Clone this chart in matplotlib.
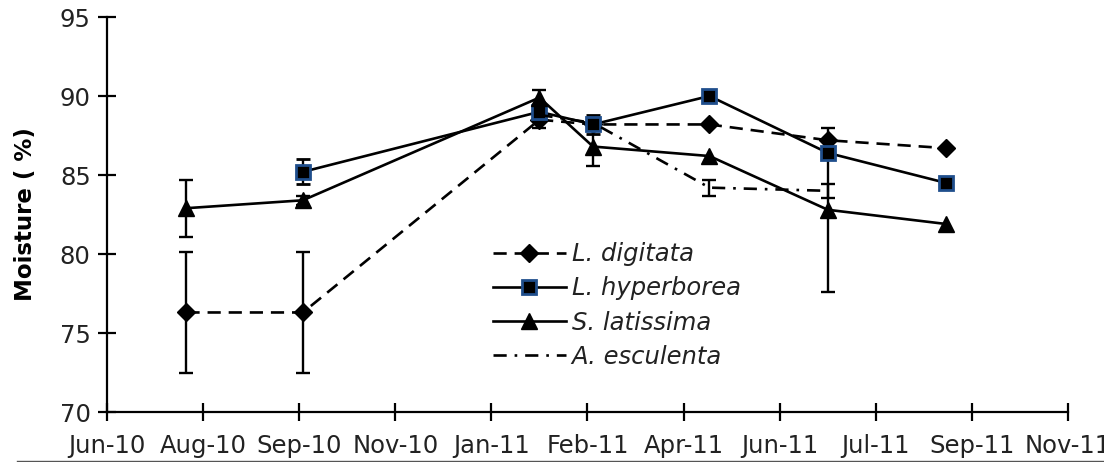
"""Seasonal moisture content of four kelp species (Jun-10 to Nov-11)."""
import matplotlib
matplotlib.use("Agg")
import matplotlib.dates as mdates
import matplotlib.pyplot as plt
import numpy as np
from matplotlib.lines import Line2D

# sampling dates
sample_dates = ["2010-07-23", "2010-09-24", "2011-01-30", "2011-02-28",
                "2011-05-02", "2011-07-05", "2011-09-07"]

nan = np.nan
digitata = [76.3, 76.3, 88.5, 88.2, 88.2, 87.2, 86.7]
digitata_err = [3.8, 3.8, 0.5, nan, nan, nan, nan]
hyperborea = [nan, 85.2, 89.0, 88.2, 90.0, 86.4, 84.5]
hyperborea_err = [nan, 0.8, nan, 0.6, nan, nan, nan]
latissima = [82.9, 83.4, 89.9, 86.8, 86.2, 82.8, 81.9]
latissima_err = [1.8, 0.3, 0.5, 1.2, nan, 5.2, nan]
esculenta = [nan, nan, 88.8, 88.3, 84.2, 84.0, nan]
esculenta_err = [nan, nan, nan, nan, 0.5, 0.45, nan]

tick_dates = ["2010-06-10", "2010-08-01", "2010-09-22", "2010-11-13",
              "2011-01-04", "2011-02-25", "2011-04-18", "2011-06-09",
              "2011-07-31", "2011-09-21", "2011-11-12"]
tick_labels = ["Jun-10", "Aug-10", "Sep-10", "Nov-10", "Jan-11", "Feb-11",
               "Apr-11", "Jun-11", "Jul-11", "Sep-11", "Nov-11"]

x = mdates.datestr2num(sample_dates)
xt = mdates.datestr2num(tick_dates)

plt.rcParams["font.family"] = "DejaVu Sans"

fig = plt.figure(figsize=(11.04, 4.62), dpi=100)
ax = fig.add_axes([0.0969, 0.1082, 0.8705, 0.855])

LW = 1.9
DASH = (0, (5, 3))
DASHDOT = (0, (5, 3, 1, 3))
sq_edge = "#1f4e8c"

err_kw = dict(color="black", lw=LW, elinewidth=1.7, capsize=5, capthick=1.7)
ax.errorbar(x, digitata, yerr=digitata_err, ls=DASH, marker="D",
            ms=9, mfc="black", mec="black", **err_kw)
ax.errorbar(x, hyperborea, yerr=hyperborea_err, ls="-", marker="s",
            ms=10, mfc="black", mec=sq_edge, mew=2, **err_kw)
ax.errorbar(x, latissima, yerr=latissima_err, ls="-", marker="^",
            ms=11, mfc="black", mec="black", **err_kw)
ax.errorbar(x, esculenta, yerr=esculenta_err, ls=DASHDOT, **err_kw)

ax.set_xlim(xt[0], xt[-1])
ax.set_ylim(70, 95)
ax.set_yticks(np.arange(70, 96, 5))
ax.set_xticks(xt)
ax.set_xticklabels(tick_labels)

for s in ["top", "right"]:
    ax.spines[s].set_visible(False)
for s in ["left", "bottom"]:
    ax.spines[s].set_linewidth(1.6)
ax.tick_params(axis="both", direction="inout", length=13.5, width=1.6,
               labelsize=17.5, labelcolor="#222222")
ax.tick_params(axis="x", pad=9)
ax.tick_params(axis="y", pad=5)

ax.set_ylabel("Moisture ( %)", fontsize=16.5, fontweight="bold", labelpad=16)

# legend handles without the error bars
handles = [
    Line2D([], [], color="black", lw=LW, ls=DASH, marker="D", ms=9),
    Line2D([], [], color="black", lw=LW, ls="-", marker="s", ms=10,
           mfc="black", mec=sq_edge, mew=2),
    Line2D([], [], color="black", lw=LW, ls="-", marker="^", ms=11),
    Line2D([], [], color="black", lw=LW, ls=DASHDOT),
]
labels = ["L. digitata", "L. hyperborea", "S. latissima", "A. esculenta"]
leg = ax.legend(handles, labels, loc="upper left", bbox_to_anchor=(0.4375, 0.497),
                bbox_transform=fig.transFigure, borderaxespad=0, frameon=False,
                fontsize=17.5, handlelength=3.0, handletextpad=0.25,
                labelspacing=0.42)
for t in leg.get_texts():
    t.set_fontstyle("italic")
    t.set_color("#222222")

fig.add_artist(Line2D([0.015, 1.0], [0.002, 0.002], transform=fig.transFigure,
                      color="#555555", lw=1))

fig.savefig("out.png", dpi=100)
